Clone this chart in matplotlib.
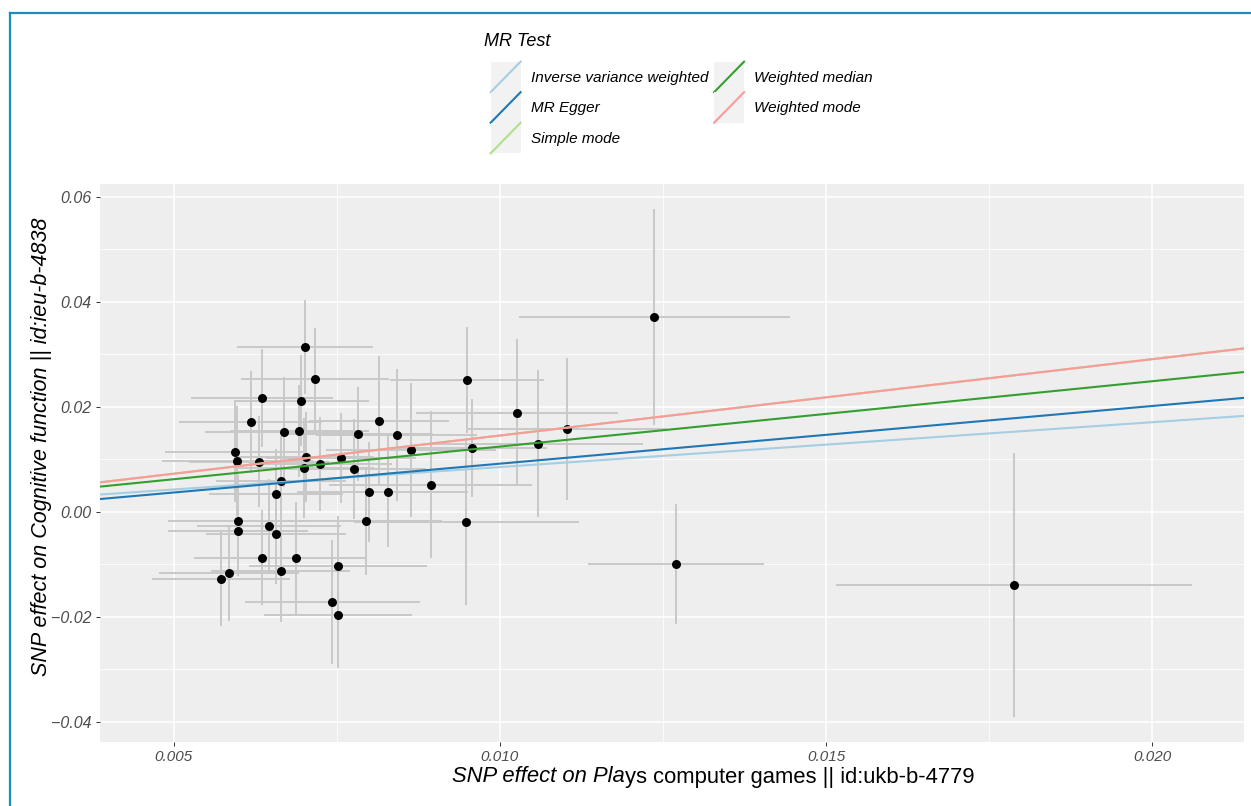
import numpy as np
import matplotlib
matplotlib.use('Agg')
from matplotlib import pyplot as plt
from matplotlib.lines import Line2D
from matplotlib.patches import Rectangle
from matplotlib.legend_handler import HandlerBase
from matplotlib.ticker import MultipleLocator, FuncFormatter
from matplotlib.offsetbox import TextArea, HPacker, AnchoredOffsetbox

# SNP effects on exposure (x) and outcome (y), with standard errors
beta_exp = [0.01237, 0.00701, 0.00717, 0.00636, 0.00696, 0.00618, 0.00669, 0.00693,
            0.00782, 0.00815, 0.00842, 0.00864, 0.00950, 0.01026, 0.00958, 0.01058,
            0.01103, 0.00894, 0.00949, 0.01270, 0.01788, 0.00594, 0.00598, 0.00631,
            0.00703, 0.00700, 0.00725, 0.00756, 0.00777, 0.00665, 0.00657, 0.00800,
            0.00828, 0.00599, 0.00599, 0.00646, 0.00657, 0.00795, 0.00636, 0.00687,
            0.00664, 0.00752, 0.00585, 0.00573, 0.00743, 0.00752]
beta_out = [0.03714, 0.03137, 0.02539, 0.02171, 0.02120, 0.01714, 0.01524, 0.01543,
            0.01480, 0.01739, 0.01467, 0.01181, 0.02509, 0.01891, 0.01219, 0.01295,
            0.01577, 0.00514, -0.00190, -0.00990, -0.01390, 0.01143, 0.00977, 0.00958,
            0.01053, 0.00838, 0.00914, 0.01034, 0.00813, 0.00590, 0.00337, 0.00381,
            0.00387, -0.00166, -0.00362, -0.00267, -0.00425, -0.00166, -0.00870, -0.00882,
            -0.01124, -0.01029, -0.01168, -0.01270, -0.01709, -0.01956]
se_exp = [0.00208, 0.00104, 0.00113, 0.00109, 0.00104, 0.00110, 0.00121, 0.00107,
          0.00115, 0.00107, 0.00123, 0.00130, 0.00118, 0.00155, 0.00115, 0.00162,
          0.00153, 0.00156, 0.00172, 0.00135, 0.00273, 0.00107, 0.00115, 0.00107,
          0.00104, 0.00107, 0.00110, 0.00115, 0.00110, 0.00100, 0.00103, 0.00110,
          0.00123, 0.00107, 0.00107, 0.00110, 0.00107, 0.00116, 0.00104, 0.00107,
          0.00107, 0.00136, 0.00107, 0.00106, 0.00134, 0.00113]
se_out = [0.0205, 0.0090, 0.0097, 0.0093, 0.0086, 0.0097, 0.0105, 0.0088,
          0.0090, 0.0124, 0.0126, 0.0128, 0.0101, 0.0140, 0.0093, 0.0140,
          0.0135, 0.0140, 0.0158, 0.0114, 0.0251, 0.0095, 0.0105, 0.0086,
          0.0086, 0.0095, 0.0090, 0.0086, 0.0095, 0.0086, 0.0086, 0.0095,
          0.0105, 0.0086, 0.0086, 0.0090, 0.0095, 0.0103, 0.0090, 0.0107,
          0.0097, 0.0095, 0.0091, 0.0090, 0.0118, 0.0101]

# MR estimates
methods = ['Inverse variance weighted', 'MR Egger', 'Simple mode', 'Weighted median', 'Weighted mode']
intercepts = [0.0, -0.0018, 0.0, 0.0, 0.0]
slopes = [0.8545, 1.099, 1.455, 1.245, 1.455]
colors = ['#a6cee3', '#1f78b4', '#b2df8a', '#33a02c', '#fb9a99']

FONT = ['Liberation Sans', 'DejaVu Sans']
plt.rcParams['font.family'] = FONT

bx = np.array(beta_exp); by = np.array(beta_out)
sx = np.array(se_exp); sy = np.array(se_out)

fig = plt.figure(figsize=(12.51, 8.06), dpi=100)
ax = fig.add_axes([100/1251, 1-742/806, 1144/1251, 558/806])
ax.set_facecolor('#EEEEEE')
for s in ax.spines.values():
    s.set_visible(False)

ax.errorbar(bx, by, yerr=sy, fmt='none', ecolor='#c8c8c8', elinewidth=1.4, capsize=0, zorder=2)
ax.errorbar(bx, by, xerr=sx, fmt='none', ecolor='#c8c8c8', elinewidth=1.4, capsize=0, zorder=2)
ax.scatter(bx, by, s=42, color='black', zorder=3, linewidths=0)

# ggplot style 5% expansion
xlo, xhi = (bx - sx).min(), (bx + sx).max()
ylo, yhi = (by - sy).min(), (by + sy).max()
ax.set_xlim(xlo - 0.05*(xhi-xlo), xhi + 0.05*(xhi-xlo))
ax.set_ylim(ylo - 0.05*(yhi-ylo), yhi + 0.05*(yhi-ylo))

xs = np.array(ax.get_xlim())
for a, b, c in zip(intercepts, slopes, colors):
    ax.plot(xs, a + b*xs, color=c, lw=1.5, zorder=4, solid_capstyle='butt')
ax.set_xlim(xs)

ax.xaxis.set_major_locator(MultipleLocator(0.005))
ax.xaxis.set_minor_locator(MultipleLocator(0.0025))
ax.yaxis.set_major_locator(MultipleLocator(0.02))
ax.yaxis.set_minor_locator(MultipleLocator(0.01))
ax.xaxis.set_major_formatter(FuncFormatter(lambda v, p: f'{v:.3f}'.replace('-', '\u2212')))
ax.yaxis.set_major_formatter(FuncFormatter(lambda v, p: f'{v:.2f}'.replace('-', '\u2212')))
ax.grid(which='major', color='white', lw=1.1)
ax.grid(which='minor', color='white', lw=0.55)
ax.set_axisbelow(True)
ax.tick_params(which='major', length=3, width=0.7, color='#333333', labelcolor='#4D4D4D', pad=3)
ax.tick_params(axis='x', labelsize=11)
ax.tick_params(axis='y', labelsize=11.5)
ax.tick_params(which='minor', length=0)
for lab in ax.get_xticklabels() + ax.get_yticklabels():
    lab.set_fontstyle('italic')

# axis titles
fig.text(42/1251, 1-447/806, 'SNP effect on Cognitive function || id:ieu-b-4838', rotation=90,
         ha='center', va='center', fontsize=15.5, style='italic')
ta1 = TextArea('SNP effect on Pla', textprops=dict(style='italic', fontsize=15.8, family=FONT))
ta2 = TextArea('ys computer games || id:ukb-b-4779', textprops=dict(fontsize=15.8, family=FONT))
xbox = HPacker(children=[ta1, ta2], align='baseline', pad=0, sep=0)
fig.add_artist(AnchoredOffsetbox(loc='center', child=xbox, frameon=False, pad=0, borderpad=0,
                                 bbox_to_anchor=(713/1251, 1-777/806), bbox_transform=fig.transFigure))


class DiagKey(HandlerBase):
    def create_artists(self, legend, orig_handle, xdescent, ydescent, width, height, fontsize, trans):
        bg = Rectangle((-xdescent, -ydescent), width, height, facecolor='#F2F2F2', edgecolor='none', transform=trans)
        ln = Line2D([-xdescent, -xdescent + width], [-ydescent, -ydescent + height],
                    color=orig_handle.get_color(), lw=1.5, transform=trans)
        return [bg, ln]


handles = [Line2D([], [], color=c) for c in colors]
fig.legend(handles, methods, ncol=2, loc='upper left', bbox_to_anchor=(483/1251, 1-54/806),
           frameon=False, borderpad=0,
           handlelength=1.96, handleheight=2.7, labelspacing=0, handletextpad=0.65,
           columnspacing=0.4, prop=dict(size=11, style='italic'),
           handler_map={Line2D: DiagKey()})
fig.text(484/1251, 1-42/806, 'MR Test', ha='left', va='center', fontsize=13, style='italic')

# blue frame on the left and top
fig.add_artist(Line2D([10/1251, 10/1251], [0, 1-13/806], transform=fig.transFigure, color='#1a8ac8', lw=1.6))
fig.add_artist(Line2D([10/1251, 1], [1-13/806, 1-13/806], transform=fig.transFigure, color='#1a8ac8', lw=1.6))

plt.savefig('out.png', dpi=100)
